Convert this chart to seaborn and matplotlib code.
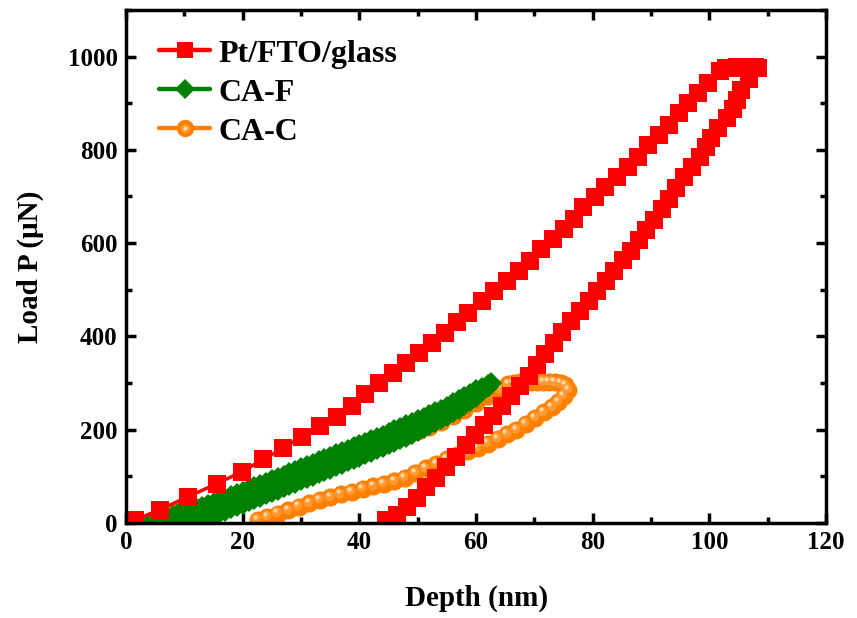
import numpy as np
import pandas as pd
import matplotlib
matplotlib.use("Agg")
import matplotlib.pyplot as plt
import matplotlib.transforms as mtransforms
from matplotlib.lines import Line2D
from matplotlib.legend_handler import HandlerTuple
from matplotlib.ticker import MultipleLocator
import seaborn as sns

# Pt/FTO/glass : loading, hold, unloading
pt_load_h = [0.3, 1.5, 5.8, 10.6, 15.6, 19.9, 23.5, 26.9, 30.2, 33.3, 36.2, 38.8, 41.0, 43.3, 45.7,
             48.0, 50.2, 52.4, 54.7, 56.7, 58.7, 61.0, 63.0, 65.3, 67.3, 69.3, 71.2, 73.2, 75.0, 76.7,
             78.4, 80.4, 82.1, 84.1, 86.1, 87.8, 89.5, 91.3, 93.0, 94.7, 96.4, 98.1, 99.8, 101.8]
pt_load_p = [4, 6, 28, 56, 84, 110, 136, 160, 185, 207, 228, 250, 276, 300, 322,
             343, 365, 386, 408, 430, 451, 476, 498, 519, 541, 562, 588, 609, 631, 652,
             677, 699, 720, 742, 764, 785, 810, 832, 853, 879, 900, 922, 943, 968]
pt_hold_h = [102.8, 103.8, 104.8, 105.8, 106.8, 107.8, 108.3]
pt_hold_p = [975, 976, 977, 977, 977, 977, 976]
pt_unload_h = [106.7, 105.4, 104.8, 104.1, 103.0, 101.4, 100.2, 99.4, 98.3, 97.0, 95.6, 94.2, 93.0, 91.8, 90.5,
               89.2, 87.9, 86.5, 85.1, 83.7, 82.3, 80.8, 79.3, 77.8, 76.3, 74.8, 73.3, 71.8, 70.4, 69.0,
               67.5, 66.0, 64.4, 62.9, 61.4, 59.8, 58.2, 56.6, 54.9, 53.1, 51.4, 49.8, 48.1, 46.4, 44.6]
pt_unload_p = [951, 929, 907, 888, 868, 846, 826, 806, 785, 764, 742, 718, 695, 672, 649,
               627, 606, 584, 563, 541, 519, 498, 476, 455, 433, 410, 386, 361, 338, 315,
               293, 272, 250, 230, 209, 188, 167, 142, 119, 97, 76, 54, 33, 16, 5]

# CA-F : loading, unloading
caf_load_h = [4, 5, 6, 7, 8, 9, 10, 11, 12, 13, 14, 15, 16, 17, 18, 19, 20, 21, 22, 23,
              24, 25, 26, 27, 28, 29, 30, 31, 32, 33, 34, 35, 36, 37, 38, 39, 40, 41, 42, 43,
              44, 45, 46, 47, 48, 49, 50, 51, 52, 53, 54, 55, 56, 57, 58, 59, 60, 61, 62, 62.6]
caf_load_p = [0, 3, 6, 10, 14, 18, 22, 26, 30, 34, 38, 43, 47, 52, 57, 62, 67, 72, 77, 81,
              86, 91, 96, 101, 107, 112, 117, 122, 127, 132, 137, 142, 147, 152, 157, 162, 167, 172, 177, 182,
              187, 192, 198, 203, 209, 214, 220, 225, 231, 237, 243, 249, 256, 263, 270, 277, 284, 290, 296, 300]
caf_unload_h = [62, 61, 60, 59, 58, 57, 56, 55, 54, 53, 52, 51, 50, 49, 48, 47, 46, 45, 44, 43,
                42, 41, 40, 39, 38, 37, 36, 35, 34, 33, 32, 31, 30, 29, 28, 27, 26, 25, 24, 23,
                22, 21, 20, 19, 18, 17, 16, 15, 14, 13, 12, 11]
caf_unload_p = [292, 282, 270, 261, 253, 245, 237, 230, 223, 216, 210, 203, 197, 191, 185, 179, 173, 168, 163, 158,
                152, 147, 142, 137, 132, 126, 121, 116, 111, 106, 101, 96, 91, 86, 81, 76, 71, 66, 61, 56,
                51, 46, 41, 36, 31, 26, 21, 16, 12, 8, 4, 1]

# CA-C : loading, hold, unloading
cac_load_h = [4.5, 6, 8, 10, 12, 14, 16, 18, 20, 22, 24, 26, 28, 30, 32, 34,
              36, 38, 40, 42, 44, 46, 48, 50, 52, 54, 56, 58, 60, 62, 64, 65.5]
cac_load_p = [0, 12, 24, 30, 35, 39, 42, 45, 49, 56, 65, 75, 86, 97, 107, 118,
              128, 139, 149, 159, 169, 178, 187, 196, 206, 217, 229, 242, 257, 272, 286, 297]
cac_hold_h = [66.5, 67.5, 68.5, 69.5, 70.5, 71.5, 72.5, 73.5, 74.5, 75.3]
cac_hold_p = [300, 301, 302, 302, 302, 302, 302, 301, 299, 295]
cac_unload_h = [75.8, 75.0, 74.1, 73.0, 71.6, 70.1, 68.5, 66.9, 65.3, 63.7, 62.0, 60.3, 58.6, 56.8, 55.0,
                53.2, 51.4, 49.6, 47.8, 46.0, 44.2, 42.4, 40.6, 38.7, 36.8, 35.0, 33.2, 31.4, 29.6, 27.8,
                26.0, 24.2, 22.6]
cac_unload_p = [285, 272, 260, 248, 237, 225, 212, 200, 190, 180, 170, 161, 153, 145, 137,
                127, 117, 107, 96, 89, 83, 78, 73, 67, 61, 55, 49, 42, 35, 27,
                20, 13, 6]

RED = "#ff0000"
GREEN = "#008000"
ORANGE = "#ff8000"
ORANGE_MID = "#ff9a33"
ORANGE_HI = "#ffd6aa"

pt = pd.DataFrame({"depth": pt_load_h + pt_hold_h + pt_unload_h,
                   "load": pt_load_p + pt_hold_p + pt_unload_p})
caf = pd.DataFrame({"depth": caf_load_h + caf_unload_h,
                    "load": caf_load_p + caf_unload_p})
cac = pd.DataFrame({"depth": cac_load_h + cac_hold_h + cac_unload_h,
                    "load": cac_load_p + cac_hold_p + cac_unload_p})

sns.set_style("ticks")
plt.rcParams["font.family"] = ["Liberation Serif", "DejaVu Serif"]
plt.rcParams["font.weight"] = "bold"
for key in ["text.color", "axes.labelcolor", "xtick.color", "ytick.color", "axes.edgecolor"]:
    plt.rcParams[key] = "black"

fig = plt.figure(figsize=(8.57, 6.18), dpi=100)
ax = fig.add_axes([0.147, 0.154, 0.817, 0.830])

# CA-C (bottom layer) with light spots to mimic the shaded balls
sns.lineplot(data=cac, x="depth", y="load", sort=False, estimator=None, ax=ax,
             color=ORANGE, linewidth=2.5, marker="o", markersize=13,
             markeredgewidth=0, markerfacecolor=ORANGE)
mid = mtransforms.offset_copy(ax.transData, fig=fig, x=-1.0, y=1.2, units="points")
hi = mtransforms.offset_copy(ax.transData, fig=fig, x=-1.8, y=2.2, units="points")
ax.plot(cac["depth"], cac["load"], linestyle="none", marker="o", markersize=7,
        markeredgewidth=0, color=ORANGE_MID, transform=mid)
ax.plot(cac["depth"], cac["load"], linestyle="none", marker="o", markersize=3,
        markeredgewidth=0, color=ORANGE_HI, transform=hi)

# CA-F
sns.lineplot(data=caf, x="depth", y="load", sort=False, estimator=None, ax=ax,
             color=GREEN, linewidth=2.5, marker="D", markersize=11.5,
             markeredgewidth=0, markerfacecolor=GREEN)

# Pt/FTO/glass (top layer)
sns.lineplot(data=pt, x="depth", y="load", sort=False, estimator=None, ax=ax,
             color=RED, linewidth=2.5, marker="s", markersize=13,
             markeredgewidth=0, markerfacecolor=RED)

ax.set_xlim(0, 120)
ax.set_ylim(0, 1100)
ax.xaxis.set_major_locator(MultipleLocator(20))
ax.xaxis.set_minor_locator(MultipleLocator(10))
ax.yaxis.set_major_locator(MultipleLocator(200))
ax.yaxis.set_minor_locator(MultipleLocator(100))
ax.set_yticks([0, 200, 400, 600, 800, 1000])

for s in ax.spines.values():
    s.set_linewidth(2.5)
    s.set_color("black")
    s.set_visible(True)
ax.tick_params(which="both", direction="in", top=True, right=True, width=2.5, colors="black")
ax.tick_params(which="major", length=7, labelsize=18, pad=6)
ax.tick_params(which="minor", length=4)
for lab in ax.get_xticklabels() + ax.get_yticklabels():
    lab.set_fontweight("bold")

ax.set_xlabel("Depth (nm)", fontsize=21, fontweight="bold", labelpad=22)
ax.set_ylabel("Load P (μN)", fontsize=21, fontweight="bold", labelpad=17)

h_pt = Line2D([], [], color=RED, linewidth=3.2, marker="s", markersize=11, markeredgewidth=0)
h_caf = Line2D([], [], color=GREEN, linewidth=3.2, marker="D", markersize=10.5, markeredgewidth=0)
h_cac = Line2D([], [], color=ORANGE, linewidth=3.2, marker="o", markersize=12.5, markeredgewidth=0)
h_cac_mid = Line2D([], [], linestyle="none", marker="o", markersize=6.5, color=ORANGE_MID, markeredgewidth=0)
h_cac_hi = Line2D([], [], linestyle="none", marker="o", markersize=3, color=ORANGE_HI, markeredgewidth=0)
ax.legend([h_pt, h_caf, (h_cac, h_cac_mid, h_cac_hi)], ["Pt/FTO/glass", "CA-F", "CA-C"],
          handler_map={tuple: HandlerTuple(ndivide=1)},
          loc="upper left", bbox_to_anchor=(0.02, 0.98), frameon=False,
          prop={"size": 23, "weight": "bold"}, handlelength=1.6,
          handletextpad=0.25, labelspacing=0.3, borderaxespad=0.2)

fig.savefig("out.png", dpi=100)
